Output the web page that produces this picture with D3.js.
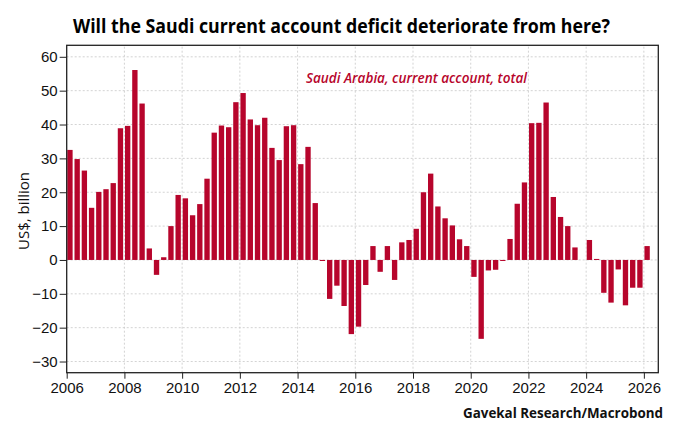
<!DOCTYPE html>
<html>
<head>
<meta charset="utf-8">
<script src="https://cdn.jsdelivr.net/npm/d3@7"></script>
<style>
  body { margin: 0; background: #fff; }
  svg { display: block; font-family: "Open Sans", "Lato", sans-serif; }
  .grid line { stroke: #c8c8c8; stroke-dasharray: 2 2; stroke-width: 0.8; }
  .axis text { font-size: 15px; fill: #111; }
  .axis line, .axis path { stroke: #222; }
</style>
</head>
<body>
<div id="chart"></div>
<script>
// quarterly, 2006Q1 .. 2026Q1
const startYear = 2006;
const values = [
  32.5, 29.8, 26.4, 15.4,
  20.1, 20.9, 22.7, 38.9,
  39.6, 56.1, 46.2, 3.4,
  -4.4, 0.8, 10.0, 19.2,
  18.2, 13.2, 16.5, 24.0,
  37.6, 39.7, 39.2, 46.6,
  49.3, 41.5, 39.8, 42.0,
  33.1, 29.5, 39.5, 39.8,
  28.3, 33.4, 16.8, -0.3,
  -11.5, -7.6, -13.6, -21.9,
  -19.7, -7.4, 4.1, -3.5,
  4.1, -5.9, 5.2, 5.9,
  9.2, 20.0, 25.5, 15.8,
  12.3, 10.2, 6.1, 4.1,
  -5.0, -23.3, -3.1, -2.9,
  -0.3, 6.2, 16.6, 22.9,
  40.4, 40.5, 46.5, 18.6,
  12.7, 10.0, 3.7, 0,
  5.9, 0.3, -9.7, -12.6,
  -2.8, -13.4, -8.2, -8.2,
  4.1
];
const yearTicks = d3.range(2006, 2027, 2);
const valueTicks = [-30, -20, -10, 0, 10, 20, 30, 40, 50, 60];

const title = "Will the Saudi current account deficit deteriorate from here?";
const seriesLabel = "Saudi Arabia, current account, total";
const yLabel = "US$, billion";
const source = "Gavekal Research/Macrobond";

const data = values.map((v, i) => ({t: startYear + i / 4, v}));

const width = 680, height = 427;
const margin = {top: 45.3, right: 680 - 658.3, bottom: 427 - 372.7, left: 66.7};

const svg = d3.select("#chart").append("svg")
    .attr("width", width).attr("height", height);

const x = d3.scaleLinear()
    .domain([2006, 2026.5])
    .range([margin.left, width - margin.right]);

const y = d3.scaleLinear()
    .domain([-33.3, 63.4])
    .range([height - margin.bottom, margin.top]);

// grid
const grid = svg.append("g").attr("class", "grid");
grid.selectAll(".h").data(valueTicks).join("line")
    .attr("x1", x.range()[0]).attr("x2", x.range()[1])
    .attr("y1", d => y(d)).attr("y2", d => y(d));
grid.selectAll(".v").data(yearTicks.slice(1)).join("line")
    .attr("x1", d => x(d)).attr("x2", d => x(d))
    .attr("y1", y.range()[0]).attr("y2", y.range()[1]);

// bars
const q = x(startYear + 0.25) - x(startYear);
const barW = q * 0.74;
svg.append("g").selectAll("rect").data(data).join("rect")
    .attr("x", d => x(d.t) + q * 0.08)
    .attr("width", barW)
    .attr("y", d => y(Math.max(0, d.v)))
    .attr("height", d => Math.max(Math.abs(y(d.v) - y(0)), d.v === 0 ? 0 : 0.8))
    .attr("fill", "#b7052c");

// frame
svg.append("rect")
    .attr("x", x.range()[0]).attr("y", y.range()[1])
    .attr("width", x.range()[1] - x.range()[0])
    .attr("height", y.range()[0] - y.range()[1])
    .attr("fill", "none").attr("stroke", "#222").attr("stroke-width", 1.3);

// axes
const xAxis = svg.append("g").attr("class", "axis")
    .attr("transform", `translate(0,${y.range()[0]})`)
    .call(d3.axisBottom(x).tickValues(yearTicks).tickFormat(d3.format("d")).tickSize(6).tickPadding(4));
xAxis.select(".domain").remove();
xAxis.selectAll("line").attr("stroke", "#666");

const yAxis = svg.append("g").attr("class", "axis")
    .attr("transform", `translate(${x.range()[0]},0)`)
    .call(d3.axisLeft(y).tickValues(valueTicks).tickSize(7).tickPadding(2));
yAxis.select(".domain").remove();
yAxis.selectAll("line").attr("stroke", "#666");

// texts
svg.append("text")
    .attr("x", 73).attr("y", 33)
    .attr("font-size", 19).attr("font-weight", 700)
    .attr("textLength", 537).attr("lengthAdjust", "spacingAndGlyphs")
    .attr("fill", "#000")
    .text(title);

svg.append("text")
    .attr("x", 306).attr("y", 82.5)
    .attr("font-size", 14.5).attr("font-style", "italic").attr("font-weight", 600)
    .attr("textLength", 221).attr("lengthAdjust", "spacingAndGlyphs")
    .attr("fill", "#b7052c")
    .text(seriesLabel);

svg.append("text")
    .attr("transform", `translate(29,${(y.range()[0] + y.range()[1]) / 2 + 2}) rotate(-90)`)
    .attr("text-anchor", "middle")
    .attr("font-size", 15)
    .attr("fill", "#111")
    .text(yLabel);

svg.append("text")
    .attr("x", 663).attr("y", 418)
    .attr("text-anchor", "end")
    .attr("font-size", 14).attr("font-weight", 700)
    .attr("textLength", 200).attr("lengthAdjust", "spacingAndGlyphs")
    .attr("fill", "#111")
    .text(source);
</script>
</body>
</html>
